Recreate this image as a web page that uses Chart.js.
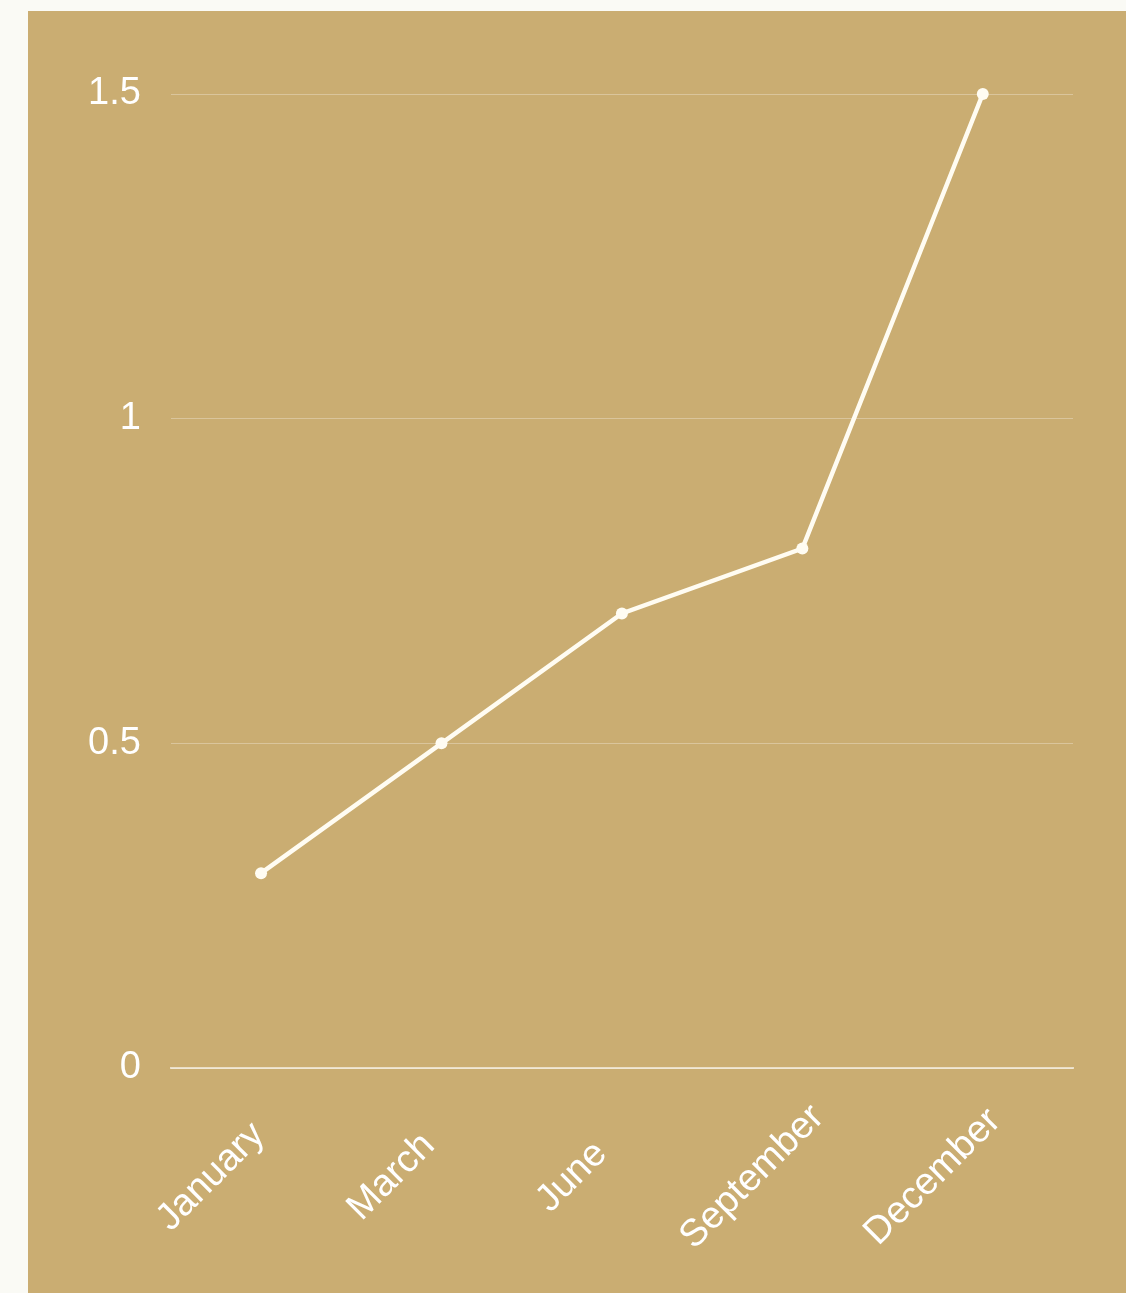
<!DOCTYPE html>
<html>
<head>
<meta charset="utf-8">
<script src="https://cdn.jsdelivr.net/npm/chart.js@4"></script>
<style>
    html, body { margin: 0; padding: 0; background: #fafaf5; }
    .chart-box {
        position: absolute;
        left: 28px;
        top: 11px;
        width: 1098px;
        height: 1282px;
        background: #caad72;
    }
</style>
</head>
<body>
<div class="chart-box"><canvas id="chart-line"></canvas></div>
<script>
// 라벨
const monthLabels = ["January", "March", "June", "September", "December"];
// 데이터
const monthData = [0.3, 0.5, 0.7, 0.8, 1.5];
const yTicks = [0, 0.5, 1, 1.5];

const lineColor = '#fffcf2';
const labelFont = '38px "Liberation Sans"';

// x축 라벨: 45도 회전, 가운데 정렬
const rotatedLabels = {
    id: 'rotatedLabels',
    afterDraw(chart) {
        const ctx = chart.ctx;
        const xScale = chart.scales.x;
        ctx.save();
        ctx.fillStyle = '#ffffff';
        ctx.font = labelFont;
        ctx.textAlign = 'center';
        ctx.textBaseline = 'middle';
        monthLabels.forEach((label, i) => {
            const x = xScale.getPixelForTick(i) - 50;
            const y = xScale.top + 109;
            ctx.save();
            ctx.translate(x, y);
            ctx.rotate(-Math.PI / 4);
            ctx.fillText(label, 0, 0);
            ctx.restore();
        });
        ctx.restore();
    }
};

const monthDatasets = {
    data: monthData,
    borderColor: lineColor,
    borderWidth: 4.5,
    pointRadius: 6,
    pointBorderWidth: 0,
    pointBackgroundColor: lineColor,
    tension: 0,
    clip: false
};

const config_line = {
    type: 'line',
    data: {
        labels: monthLabels,
        datasets: [monthDatasets]
    },
    plugins: [rotatedLabels],
    options: {
        responsive: true,
        maintainAspectRatio: false,
        animation: false,
        layout: {
            padding: { top: 83, right: 53, left: 30, bottom: 225 }
        },
        scales: {
            x: {
                offset: true,
                grid: { display: false, drawTicks: false },
                border: { display: true, color: 'rgba(255,255,255,0.6)', width: 2 },
                ticks: { display: false }
            },
            y: {
                min: 0,
                max: 1.5,
                afterBuildTicks: function (axis) {
                    axis.ticks = yTicks.map(v => ({ value: v }));
                },
                grid: { color: 'rgba(255,255,255,0.3)', drawTicks: false, lineWidth: 1 },
                border: { display: false },
                ticks: {
                    color: '#ffffff',
                    padding: 30,
                    font: { family: 'Liberation Sans', size: 38 },
                    callback: function (value) {
                        return String(value);
                    }
                }
            }
        },
        plugins: {
            legend: { display: false },
            tooltip: { enabled: false }
        }
    }
};

const dateChart = new Chart(document.getElementById("chart-line"), config_line);
</script>
</body>
</html>
